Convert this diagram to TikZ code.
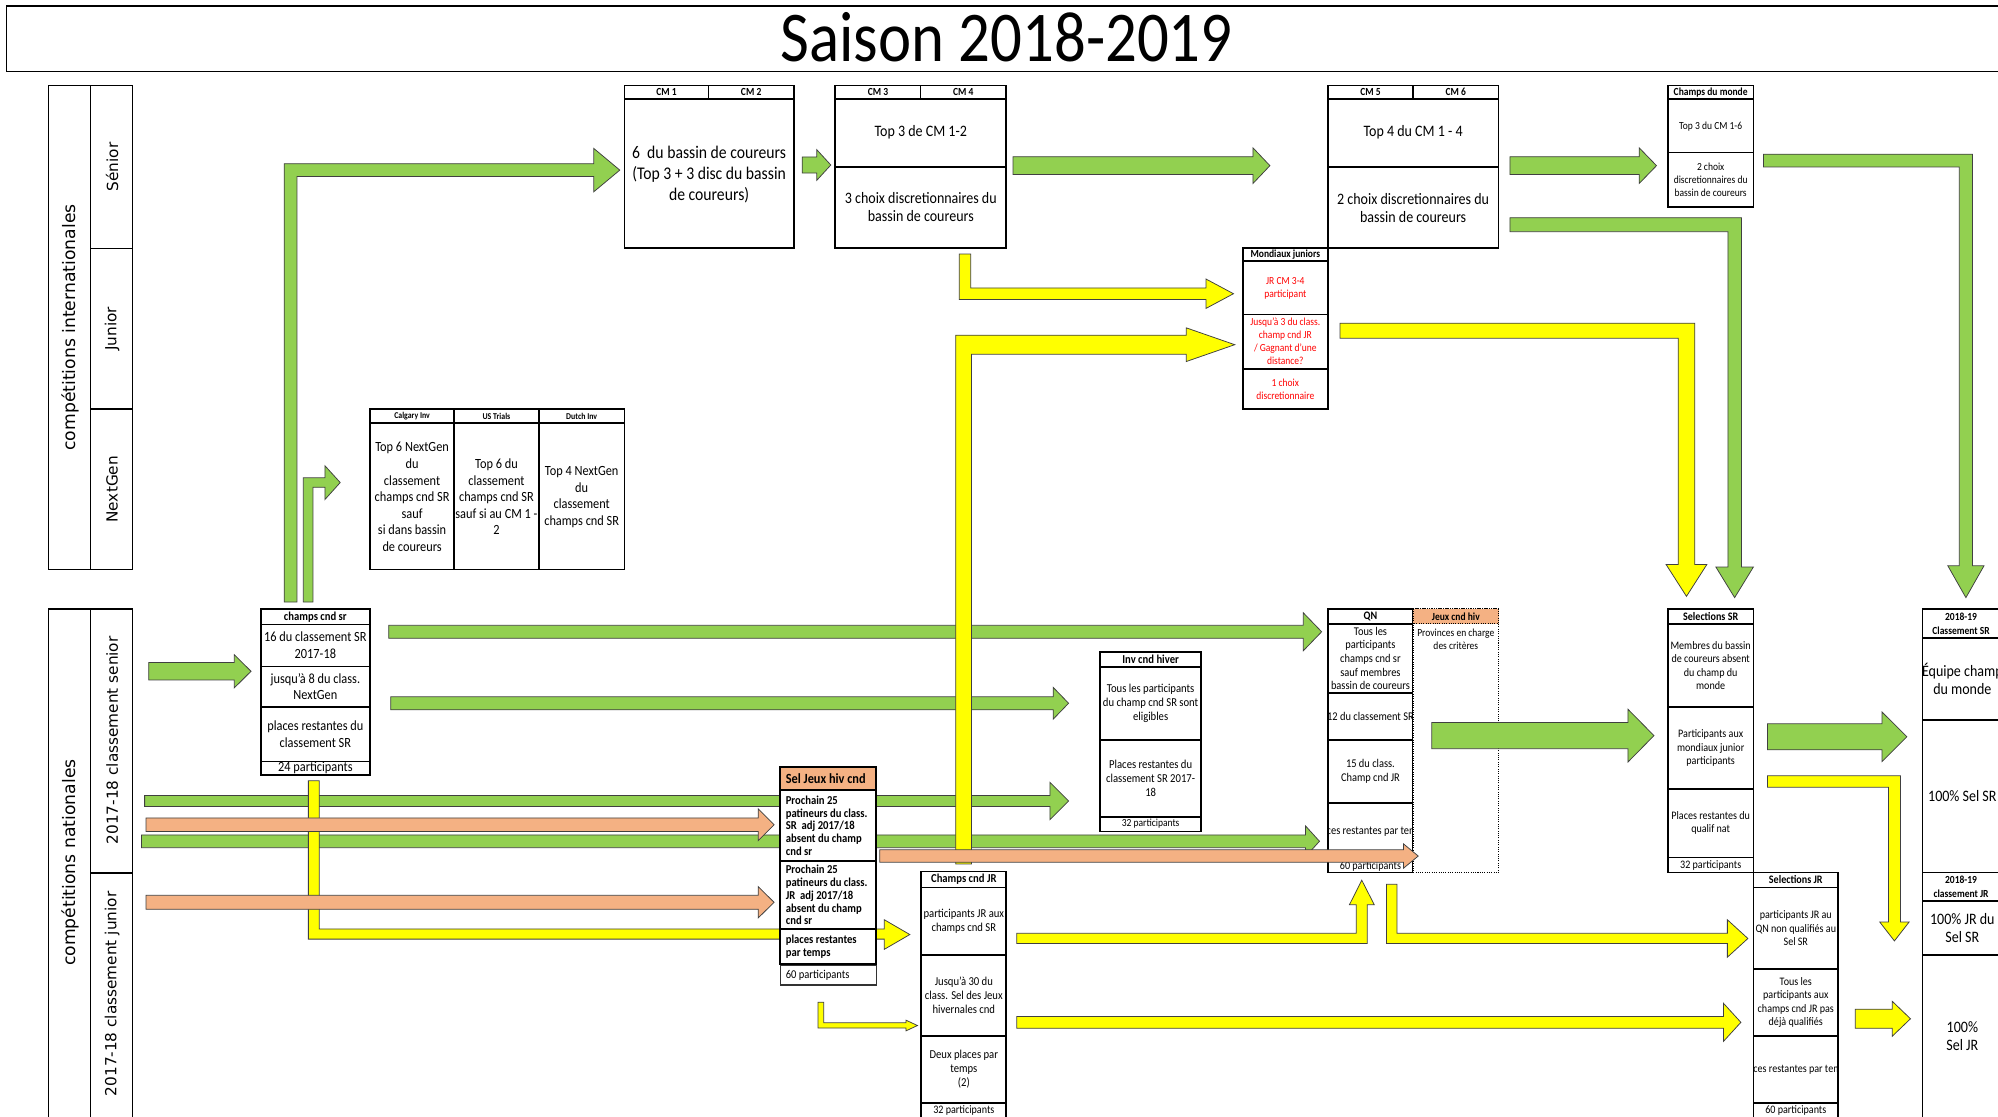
\documentclass[tikz,border=0pt]{standalone}
\usepackage{fontspec}
\setmainfont{Carlito}[FakeStretch=0.88]
\newfontfamily\cotefont{DejaVu Sans}
\usetikzlibrary{positioning}

\definecolor{vert}{HTML}{92D050}
\definecolor{jaune}{HTML}{FFFF00}
\definecolor{saumon}{HTML}{F4B183}
\definecolor{rouge}{HTML}{FF0000}

\tikzset{
  boite/.style={draw,line width=1.3pt,fill=white},
  trait/.style={line width=1.3pt},
  fleche/.style={draw=black!75,line width=0.6pt,line join=miter},
  fv/.style={fleche,fill=vert},
  fj/.style={fleche,fill=jaune},
  fs/.style={fleche,fill=saumon},
  cote/.style={rotate=90,inner sep=0pt,font=\cotefont\fontsize{13.5}{16}\selectfont},
  souscote/.style={rotate=90,inner sep=0pt,font=\cotefont\fontsize{12}{14}\selectfont},
  ent/.style={inner sep=0pt,align=center,font=\bfseries\fontsize{8.5}{11}\selectfont},
  petitent/.style={inner sep=0pt,font=\bfseries\fontsize{7}{8}\selectfont},
  tA/.style={inner sep=0pt,align=center,font=\fontsize{14}{16.5}\selectfont},
  tB/.style={inner sep=0pt,align=center,font=\fontsize{12.5}{14.4}\selectfont},
  tC/.style={inner sep=0pt,align=center,font=\fontsize{11}{13}\selectfont},
  tD/.style={inner sep=0pt,align=center,font=\fontsize{9.5}{11}\selectfont},
  tE/.style={inner sep=0pt,align=center,font=\fontsize{9}{10.6}\selectfont},
  tF/.style={inner sep=0pt,align=center,font=\fontsize{8.5}{10.3}\selectfont},
  tG/.style={inner sep=0pt,align=center,font=\fontsize{12.5}{14}\selectfont},
  tS/.style={inner sep=0pt,align=left,anchor=west,font=\bfseries\fontsize{9.5}{10}\selectfont},
}

% fleche droite : style, debut, pointe, y, demi-tige, demi-tete, debut tete
\newcommand{\flecheD}[7]{%
  \filldraw[#1] (#2,#4-#5) -- (#7,#4-#5) -- (#7,#4-#6) -- (#3,#4)
    -- (#7,#4+#6) -- (#7,#4+#5) -- (#2,#4+#5) -- cycle;}

\begin{document}
\begin{tikzpicture}[x=1pt,y=-1pt]
  \useasboundingbox (0,0) rectangle (1568,876);
  \clip (0,0) rectangle (1568,876);

  % titre
  \draw[line width=1.2pt] (5,4.5) rectangle (1580,56);
  \node (titre) at (790,29) {\fontsize{56}{60}\selectfont Saison 2018-2019};

  % colonnes de gauche
  \draw[trait] (38,67) rectangle (104,447);
  \draw[trait] (71,67) -- (71,447);
  \draw[trait] (71,195) -- (104,195);
  \draw[trait] (71,321) -- (104,321);
  \node[cote] (intl) at (55,257) {compétitions internationales};
  \node[souscote] (senior) at (88,131) {Sénior};
  \node[souscote] (junior) at (88,258) {Junior};
  \node[souscote] (nextgen) at (88,384) {NextGen};

  \draw[trait] (38,478) rectangle (104,882);
  \draw[trait] (71,478) -- (71,882);
  \draw[trait] (71,685) -- (104,685);
  \node[cote] (natl) at (55,677) {compétitions nationales};
  \node[souscote] (clsr) at (88,581) {2017-18 classement senior};
  \node[souscote] (cljr) at (88,780) {2017-18 classement junior};

  % fleches du fond
  \flecheD{fv}{116.7}{197}{526.8}{6.8}{13}{183.9}
  \filldraw[fv] (223,472.5) -- (223,128.5) -- (466,128.5) -- (466,116.5) -- (486.4,133.5)
    -- (466,150.5) -- (466,138.5) -- (233,138.5) -- (233,472.5) -- cycle;
  \filldraw[fv] (238,472.5) -- (238,375) -- (255,375) -- (255,365.5) -- (267,378.7)
    -- (255,392) -- (255,382.4) -- (245.6,382.4) -- (245.6,472.5) -- cycle;
  \flecheD{fv}{629.5}{652}{129.5}{6.3}{12}{641}
  \flecheD{fv}{795}{996.6}{130}{7}{14}{983.3}
  \flecheD{fv}{1185}{1300}{130}{7}{14}{1286.4}
  \filldraw[fv] (1185,170.8) -- (1366.6,170.8) -- (1366.6,445) -- (1376,445) -- (1361.3,469)
    -- (1346.6,445) -- (1356,445) -- (1356,181.8) -- (1185,181.8) -- cycle;
  \filldraw[fv] (1384,121) -- (1548,121) -- (1548,444) -- (1557,444) -- (1542.8,469)
    -- (1528.6,444) -- (1537.6,444) -- (1537.6,131) -- (1384,131) -- cycle;
  \flecheD{fv}{305}{1037.2}{495.8}{5.1}{14.9}{1022.8}
  \flecheD{fv}{306.6}{838.6}{551.9}{5.1}{12.5}{826.5}
  \flecheD{fv}{113.5}{838.6}{628.6}{4.3}{14.6}{824}
  \flecheD{fv}{111}{1035.5}{660.2}{5}{12}{1024.6}
  \filldraw[fj] (242,612.8) -- (250.5,612.8) -- (250.5,729) -- (694,729) -- (694,721.8)
    -- (714,733.4) -- (694,745) -- (694,737) -- (242,737) -- cycle;
  \flecheD{fs}{114.6}{607.5}{647.2}{5.35}{12.5}{595}
  \flecheD{fs}{114.6}{607.5}{708.1}{5.5}{12.3}{595}
  \filldraw[fj] (750,678) -- (750,263) -- (931,263) -- (931,257.3) -- (969,270.5)
    -- (931,283.7) -- (931,278) -- (762.5,278) -- (762.5,678) -- cycle;

  % CM 1-2
  \draw[boite] (490,67) rectangle (623,194.4);
  \draw[trait] (490,77.7) -- (623,77.7);
  \draw[trait] (556,67) -- (556,77.7);
  \node[ent] (cm1) at (523,72.4) {CM 1};
  \node[ent] (cm2) at (589.5,72.4) {CM 2};
  \node[tA] (bassin) at (556.5,137) {6~~du bassin de coureurs\\(Top 3 + 3 disc du bassin\\de coureurs)};

  % CM 3-4
  \draw[boite] (655.5,67) rectangle (789.7,194.4);
  \draw[trait] (655.5,77.7) -- (789.7,77.7);
  \draw[trait] (655.5,130.8) -- (789.7,130.8);
  \draw[trait] (722.5,67) -- (722.5,77.7);
  \node[ent] (cm3) at (689,72.4) {CM 3};
  \node[ent] (cm4) at (756,72.4) {CM 4};
  \node[tB] (topcm12) at (722.6,104) {Top 3 de CM 1-2};
  \node[tB] (choixA) at (722.6,162.6) {3 choix discretionnaires du\\bassin de coureurs};

  % CM 5-6
  \draw[boite] (1042,67) rectangle (1176,194.4);
  \draw[trait] (1042,77.7) -- (1176,77.7);
  \draw[trait] (1042,131) -- (1176,131);
  \draw[trait] (1109,67) -- (1109,77.7);
  \node[ent] (cm5) at (1075.5,72.4) {CM 5};
  \node[ent] (cm6) at (1142.5,72.4) {CM 6};
  \node[tB] (topcm14) at (1109,104) {Top 4 du CM 1 - 4};
  \node[tB] (choixB) at (1109,163) {2 choix discretionnaires du\\bassin de coureurs};

  % champs du monde
  \draw[boite] (1309,67) rectangle (1376,162.2);
  \draw[trait] (1309,77.7) -- (1376,77.7);
  \draw[trait] (1309,119.8) -- (1376,119.8);
  \node[ent] (cdm) at (1342.5,72.4) {Champs du monde};
  \node[tF] (topcm16) at (1342.5,99) {Top 3 du CM 1-6};
  \node[tF] (choixC) at (1342.5,141) {2 choix\\discretionnaires du\\bassin de coureurs};

  % mondiaux juniors
  \draw[boite] (975.5,194.4) rectangle (1042,321);
  \draw[trait] (975.5,205) -- (1042,205);
  \draw[trait] (975.5,246.7) -- (1042,246.7);
  \draw[trait] (975.5,289.4) -- (1042,289.4);
  \node[ent] (mj) at (1008.7,199.9) {Mondiaux juniors};
  \node[tF,text=rouge] (mjA) at (1008.7,226) {JR CM 3-4\\participant};
  \node[tF,text=rouge] (mjB) at (1008.7,268) {Jusqu’à 3 du class.\\champ cnd JR\\/ Gagnant d’une\\distance?};
  \node[tF,text=rouge] (mjC) at (1008.7,305.2) {1 choix\\discretionnaire};

  % Calgary, US, Dutch
  \draw[boite] (290.5,321) rectangle (490,447);
  \draw[trait] (290.5,331.7) -- (490,331.7);
  \draw[trait] (356.3,321) -- (356.3,447);
  \draw[trait] (423,321) -- (423,447);
  \node[petitent] (calg) at (323.4,326.4) {Calgary Inv};
  \node[petitent] (ust) at (389.6,326.4) {US Trials};
  \node[petitent] (dutch) at (456.5,326.4) {Dutch Inv};
  \node[tC] (calgA) at (323.4,390) {Top 6 NextGen\\du\\classement\\champs cnd SR\\sauf\\si dans bassin\\de coureurs};
  \begin{scope}
    \clip (356.3,331.7) rectangle (423,447);
    \node[tC] (ustA) at (389.6,390) {Top 6 du\\classement\\champs cnd SR\\sauf si au CM 1 -\\2};
  \end{scope}
  \node[tC] (dutchA) at (456.5,390) {Top 4 NextGen\\du\\classement\\champs cnd SR};

  % champs cnd sr
  \draw[boite] (204.6,477.8) rectangle (290.5,608.3);
  \draw[trait] (204.6,490) -- (290.5,490);
  \draw[trait] (204.6,523) -- (290.5,523);
  \draw[trait] (204.6,554.8) -- (290.5,554.8);
  \draw[trait] (204.6,597.7) -- (290.5,597.7);
  \node[ent,font=\bfseries\fontsize{9.5}{11}\selectfont] (csr) at (247.5,484) {champs cnd sr};
  \node[tC] (csrA) at (247.5,506.5) {16 du classement SR\\2017-18};
  \node[tC] (csrB) at (247.5,538.9) {jusqu’à 8 du class.\\NextGen};
  \node[tC] (csrC) at (247.5,576.2) {places restantes du\\classement SR};
  \node[tC] (csrD) at (247.5,602.5) {24 participants};

  % inv cnd hiver
  \draw[boite] (863.4,511.6) rectangle (942.7,652.5);
  \draw[trait] (863.4,523.4) -- (942.7,523.4);
  \draw[trait] (863.4,580.6) -- (942.7,580.6);
  \draw[trait] (863.4,641) -- (942.7,641);
  \node[ent,font=\bfseries\fontsize{9.5}{11}\selectfont] (ich) at (903,517.5) {Inv cnd hiver};
  \node[tD] (ichA) at (903,552) {Tous les participants\\du champ cnd SR sont\\eligibles};
  \node[tD] (ichB) at (903,610.8) {Places restantes du\\classement SR 2017-\\18};
  \node[tF] (ichC) at (903,646.7) {32 participants};

  % sel jeux hiv cnd
  \draw[boite] (612.3,601.8) rectangle (687.6,756.4);
  \filldraw[fill=saumon,line width=1.3pt] (612.3,601.8) rectangle (687.6,619.8);
  \draw[trait] (612.3,675.8) -- (687.6,675.8);
  \draw[trait] (612.3,729) -- (687.6,729);
  \node[ent,font=\bfseries\fontsize{11}{12}\selectfont,anchor=west] (sjh) at (616.5,610.8) {Sel Jeux hiv cnd};
  \node[tS] (sjhA) at (616.5,648) {Prochain 25\\patineurs du class.\\SR~~adj 2017/18\\absent du champ\\cnd sr};
  \node[tS] (sjhB) at (616.5,702.5) {Prochain 25\\patineurs du class.\\JR~~adj 2017/18\\absent du champ\\cnd sr};
  \node[tS] (sjhC) at (616.5,742.7) {places restantes\\par temps};
  \draw[fill=white,line width=0.9pt,draw=black!80] (612.3,757.5) rectangle (687.6,773);
  \node[tE,anchor=west,font=\fontsize{9.4}{11}\selectfont] (sjhD) at (616.5,765.2) {60 participants};

  % champs cnd JR
  \draw[boite] (723,684) rectangle (789.7,885);
  \draw[trait] (723,696.6) -- (789.7,696.6);
  \draw[trait] (723,749.4) -- (789.7,749.4);
  \draw[trait] (723,813) -- (789.7,813);
  \draw[trait] (723,865.8) -- (789.7,865.8);
  \node[ent,font=\bfseries\fontsize{9.5}{11}\selectfont] (cjr) at (756.4,690.3) {Champs cnd JR};
  \node[tD] (cjrA) at (756.4,723) {participants JR aux\\champs cnd SR};
  \node[tD] (cjrB) at (756.4,781.2) {Jusqu’à 30 du\\class. Sel des Jeux\\hivernales cnd};
  \node[tD] (cjrC) at (756.4,839.4) {Deux places par\\temps\\(2)};
  \node[tE] (cjrD) at (756.4,871.5) {32 participants};

  % QN
  \draw[boite] (1042,477.8) rectangle (1109,684.7);
  \draw[trait] (1042,489.6) -- (1109,489.6);
  \draw[trait] (1042,544) -- (1109,544);
  \draw[trait] (1042,580.6) -- (1109,580.6);
  \draw[trait] (1042,630.3) -- (1109,630.3);
  \draw[trait] (1042,675) -- (1109,675);
  \node[ent,font=\bfseries\fontsize{9}{11}\selectfont] (qn) at (1075.5,483.7) {QN};
  \node[tE,font=\fontsize{9.3}{10.7}\selectfont] (qnA) at (1075.5,516.8) {Tous les\\participants\\champs cnd sr\\sauf membres\\bassin de coureurs};
  \begin{scope}
    \clip (1042,544) rectangle (1108.3,580.6);
    \node[tE,font=\fontsize{9.3}{10.7}\selectfont] (qnB) at (1075.5,562.3) {12 du classement SR};
  \end{scope}
  \node[tE,font=\fontsize{9.3}{10.7}\selectfont] (qnC) at (1075.5,605.5) {15 du class.\\Champ cnd JR};
  \begin{scope}
    \clip (1042,630.3) rectangle (1108.3,675);
    \node[tE,font=\fontsize{9.3}{10.7}\selectfont] (qnD) at (1075.5,652.6) {Places restantes par temps};
  \end{scope}
  \node[tE] (qnE) at (1075.5,680) {60 participants};

  % jeux cnd hiv
  \draw[fill=white,line width=0.8pt,densely dotted] (1109,477.8) rectangle (1176,684.7);
  \filldraw[fill=saumon,line width=0.8pt,densely dotted] (1109,477.8) rectangle (1176,489.6);
  \node[ent] (jch) at (1142.5,483.7) {Jeux cnd hiv};
  \node[tF] (jchA) at (1142.5,501.5) {Provinces en charge\\des critères};

  % selections SR
  \draw[boite] (1309,477.8) rectangle (1376,684.7);
  \draw[trait] (1309,489.8) -- (1376,489.8);
  \draw[trait] (1309,554.8) -- (1376,554.8);
  \draw[trait] (1309,619) -- (1376,619);
  \draw[trait] (1309,673) -- (1376,673);
  \node[ent,font=\bfseries\fontsize{9}{11}\selectfont] (ssr) at (1342.5,483.8) {Selections SR};
  \node[tE] (ssrA) at (1342.5,522.3) {Membres du bassin\\de coureurs absent\\du champ du\\monde};
  \node[tE] (ssrB) at (1342.5,587) {Participants aux\\mondiaux junior\\participants};
  \node[tE] (ssrC) at (1342.5,646) {Places restantes du\\qualif nat};
  \node[tE] (ssrD) at (1342.5,679) {32 participants};

  % selections JR
  \draw[boite] (1376.2,684.7) rectangle (1442.4,885);
  \draw[trait] (1376.2,696.6) -- (1442.4,696.6);
  \draw[trait] (1376.2,760.4) -- (1442.4,760.4);
  \draw[trait] (1376.2,813) -- (1442.4,813);
  \draw[trait] (1376.2,865.8) -- (1442.4,865.8);
  \node[ent,font=\bfseries\fontsize{9}{11}\selectfont] (sjr) at (1409.3,690.6) {Selections JR};
  \node[tE] (sjrA) at (1409.3,728.5) {participants JR au\\QN non qualifiés au\\Sel SR};
  \node[tE] (sjrB) at (1409.3,786.7) {Tous les\\participants aux\\champs cnd JR pas\\déjà qualifiés};
  \begin{scope}
    \clip (1376.2,813) rectangle (1441.7,865.8);
    \node[tE] (sjrC) at (1409.3,839.4) {Places restantes par temps};
  \end{scope}
  \node[tE] (sjrD) at (1409.3,871.5) {60 participants};

  % classements 2018-19
  \draw[boite] (1508.6,477.8) rectangle (1572,684.7);
  \draw[trait] (1508.6,500.8) -- (1572,500.8);
  \draw[trait] (1508.6,564.8) -- (1572,564.8);
  \node[ent] (csr19) at (1539,489.3) {2018-19\\Classement SR};
  \node[tG] (csr19A) at (1540,532.8) {Équipe champ\\du monde};
  \node[tG] (csr19B) at (1540,624.8) {100\% Sel SR};
  \draw[boite] (1508.6,684.7) rectangle (1572,885);
  \draw[trait] (1508.6,707) -- (1572,707);
  \draw[trait] (1508.6,749.6) -- (1572,749.6);
  \node[ent] (cjr19) at (1539,695.8) {2018-19\\classement JR};
  \node[tG] (cjr19A) at (1540,728.3) {100\% JR du\\Sel SR};
  \node[tG] (cjr19B) at (1540,813) {100\%\\Sel JR};

  % fleches du dessus
  \flecheD{fs}{690.4}{1113}{671.8}{4.85}{9.5}{1101.5}
  \filldraw[fj] (752.8,199.4) -- (761.8,199.4) -- (761.8,226) -- (946.5,226) -- (946.5,219)
    -- (968,230.5) -- (946.5,242) -- (946.5,235) -- (752.8,235) -- cycle;
  \filldraw[fj] (1051.6,253.6) -- (1330,253.6) -- (1330,443) -- (1339.5,443) -- (1323.5,468)
    -- (1307.5,443) -- (1317,443) -- (1317,265.4) -- (1051.6,265.4) -- cycle;
  \filldraw[fj] (642,786.5) -- (646.4,786.5) -- (646.4,802.7) -- (711,802.7) -- (711,800.6)
    -- (720,804.8) -- (711,809) -- (711,806.8) -- (642,806.8) -- cycle;
  \filldraw[fj] (798,732.4) -- (1064.4,732.4) -- (1064.4,710) -- (1059,710) -- (1068.7,690.8)
    -- (1078.5,710) -- (1072.9,710) -- (1072.9,740.5) -- (798,740.5) -- cycle;
  \filldraw[fj] (1088,694) -- (1096.3,694) -- (1096.3,732.4) -- (1355.6,732.4) -- (1355.6,721.8)
    -- (1371.7,736.5) -- (1355.6,751.2) -- (1355.6,740.5) -- (1088,740.5) -- cycle;
  \flecheD{fj}{798}{1366.2}{802.3}{4.65}{15}{1352.5}
  \flecheD{fv}{1123.6}{1298}{577.3}{10.25}{20.7}{1277.6}
  \flecheD{fv}{1387}{1496.5}{578.2}{10.2}{19.4}{1477}
  \filldraw[fj] (1387,608.8) -- (1491.4,608.8) -- (1491.4,723.6) -- (1498.2,723.6) -- (1486.7,738.4)
    -- (1475.2,723.6) -- (1482,723.6) -- (1482,617.8) -- (1387,617.8) -- cycle;
  \flecheD{fj}{1456}{1499.3}{799.5}{7.5}{13.7}{1485}
\end{tikzpicture}
\end{document}
